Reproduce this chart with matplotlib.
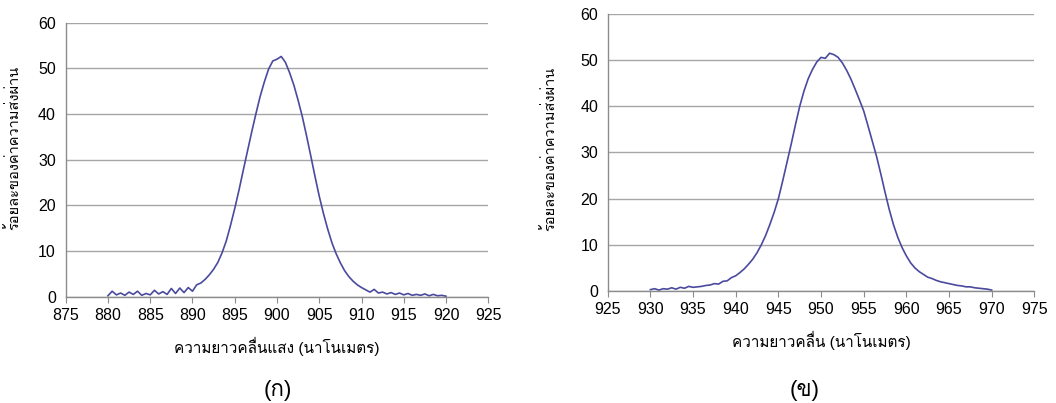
import matplotlib
matplotlib.use("Agg")
import matplotlib.pyplot as plt
import numpy as np
from matplotlib import font_manager, ft2font

# spectrum (a): wavelength 880-920 nm, 0.5 nm step
wl_a = np.arange(880.0, 920.01, 0.5)
trans_a = [
    0.2, 1.2, 0.4, 0.8, 0.3, 1.0, 0.5, 1.2, 0.3, 0.7,
    0.4, 1.4, 0.6, 1.1, 0.5, 1.8, 0.7, 1.9, 0.9, 2.0,
    1.2, 2.6, 3.0, 3.8, 4.8, 6.0, 7.5, 9.6, 12.2, 15.6,
    19.3, 23.3, 27.6, 31.8, 36.0, 40.0, 43.8, 47.0, 49.8, 51.6,
    52.0, 52.6, 51.3, 49.0, 46.3, 43.0, 39.4, 35.2, 30.8, 26.3,
    22.0, 18.2, 14.8, 11.8, 9.4, 7.4, 5.7, 4.4, 3.4, 2.6,
    2.0, 1.5, 1.0, 1.6, 0.8, 1.0, 0.6, 0.9, 0.5, 0.8,
    0.4, 0.7, 0.3, 0.5, 0.3, 0.6, 0.2, 0.5, 0.2, 0.3,
    0.1,
]

# spectrum (b): wavelength 930-970 nm, 0.5 nm step
wl_b = np.arange(930.0, 970.01, 0.5)
trans_b = [
    0.3, 0.5, 0.2, 0.5, 0.4, 0.7, 0.4, 0.8, 0.6, 1.0,
    0.8, 0.9, 1.0, 1.2, 1.3, 1.6, 1.5, 2.1, 2.2, 2.9,
    3.3, 4.0, 4.8, 5.8, 6.9, 8.3, 10.0, 12.0, 14.4, 17.0,
    20.0, 23.8, 27.8, 31.8, 36.0, 40.0, 43.3, 46.0, 48.0, 49.6,
    50.6, 50.4, 51.5, 51.2, 50.6, 49.4, 47.8, 45.9, 43.7, 41.4,
    39.0, 35.8, 32.5, 29.2, 25.4, 21.4, 17.6, 14.3, 11.6, 9.4,
    7.6, 6.1, 5.0, 4.2, 3.6, 3.0, 2.7, 2.3, 2.0, 1.8,
    1.6, 1.4, 1.2, 1.1, 0.9, 0.9, 0.7, 0.6, 0.5, 0.4,
    0.2,
]

ylabel = "ร้อยละของค่าความส่งผ่าน"
xlabel_a = "ความยาวคลื่นแสง (นาโนเมตร)"
xlabel_b = "ความยาวคลื่น (นาโนเมตร)"
captions = ["(ก)", "(ข)"]


def thai_families():
    # look for any font on the machine that has Thai glyphs
    for path in font_manager.findSystemFonts():
        try:
            font_manager.fontManager.addfont(path)
        except Exception:
            pass
    found = []
    for f in font_manager.fontManager.ttflist:
        try:
            cmap = ft2font.FT2Font(f.fname).get_charmap()
        except Exception:
            continue
        if 0x0E01 in cmap and f.name not in found:
            found.append(f.name)
    return found


thai = thai_families()
plt.rcParams["font.family"] = ["Liberation Sans"] + thai + ["DejaVu Sans"]

line_color = "#4a4a9e"
grid_color = "#a6a6a6"

fig = plt.figure(figsize=(10.56, 4.03), dpi=100)
ax_a = fig.add_axes([0.0622, 0.2638, 0.4002, 0.680])
ax_b = fig.add_axes([0.5755, 0.2779, 0.4040, 0.6874])

panels = [
    (ax_a, wl_a, trans_a, (875, 925), xlabel_a, captions[0], 0.263, (-0.125, 0.543)),
    (ax_b, wl_b, trans_b, (925, 975), xlabel_b, captions[1], 0.762, (-0.138, 0.513)),
]

for ax, wl, tr, xlim, xlab, cap, cap_x, ylab_pos in panels:
    ax.plot(wl, tr, color=line_color, linewidth=1.2)
    ax.set_xlim(*xlim)
    ax.set_ylim(0, 60)
    ax.set_xticks(np.arange(xlim[0], xlim[1] + 1, 5))
    ax.set_yticks(np.arange(0, 61, 10))
    ax.grid(axis="y", color=grid_color, linewidth=1.0)
    ax.set_axisbelow(True)
    for s in ["top", "right"]:
        ax.spines[s].set_visible(False)
    for s in ["left", "bottom"]:
        ax.spines[s].set_color("#8c8c8c")
        ax.spines[s].set_linewidth(1.0)
    ax.tick_params(axis="x", length=4, color="#8c8c8c", labelsize=11.5, pad=4)
    ax.tick_params(axis="y", length=0, labelsize=11.5, pad=7)
    ax.set_xlabel(xlab, fontsize=11, labelpad=10)
    ax.set_ylabel(ylabel, fontsize=10.5, va="center")
    ax.yaxis.set_label_coords(*ylab_pos)
    fig.text(cap_x, 0.03, cap, ha="center", va="center", fontsize=16)

fig.savefig("out.png", dpi=100)
